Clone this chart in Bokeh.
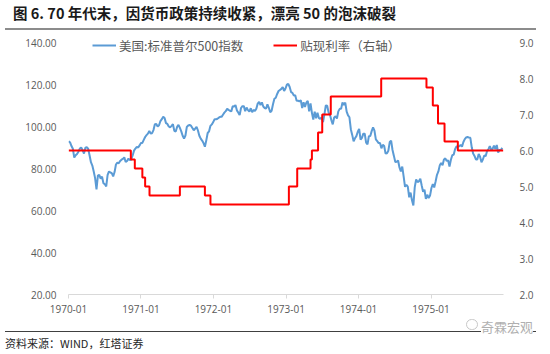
import pandas as pd
from bokeh.plotting import figure
from bokeh.layouts import column
from bokeh.models import (Range1d, LinearAxis, FixedTicker, PrintfTickFormatter,
                          DatetimeTickFormatter, Legend, LegendItem, Div)
from bokeh.embed import file_html
from bokeh.resources import INLINE

# ---------------- data ----------------
# S&P 500 weekly (Friday) values
spx_1970 = [93.0, 92.4, 90.7, 89.4, 85.2,
            86.3, 86.9, 88.0, 89.5,
            90.0, 88.7, 87.1, 89.9,
            90.1, 89.4, 86.3, 83.0,
            81.4, 78.6, 75.4, 70.0, 76.6,
            77.0, 75.2, 76.1, 73.0,
            72.5, 71.5, 77.0, 78.6, 78.1,
            77.8, 76.2, 78.3, 81.9,
            82.8, 82.5, 83.6, 84.2,
            84.6, 85.3, 83.1, 83.6, 84.7,
            84.0, 84.3, 86.2, 88.5,
            89.5, 90.3, 90.0, 91.0]
spx_1971 = [92.2, 92.2, 93.6, 95.0, 95.9,
            96.6, 97.9, 96.7, 96.8,
            98.3, 101.1, 101.2, 100.0,
            100.6, 102.6, 103.5, 104.6, 104.0,
            101.6, 101.2, 100.0, 99.6,
            100.3, 101.1, 97.9, 97.6,
            99.8, 100.8, 99.3, 97.7, 95.6,
            94.3, 95.7, 99.8, 100.5,
            100.7, 100.4, 99.3, 98.2,
            99.0, 99.8, 98.1, 95.6, 94.2,
            93.3, 92.1, 90.4, 93.4,
            96.9, 97.7, 100.3, 101.0, 102.1]
spx_1972 = [103.5, 103.4, 103.7, 104.2,
            104.6, 104.6, 105.6, 106.6,
            107.3, 108.4, 107.9, 107.5, 107.2,
            109.6, 109.5, 110.2, 107.7,
            106.7, 105.4, 108.8, 109.7,
            109.7, 107.3, 109.0, 107.8, 107.1,
            108.7, 106.8, 107.9, 107.4,
            108.5, 110.9, 111.7, 110.2,
            111.5, 109.5, 108.8, 108.5, 110.6,
            108.9, 106.8, 107.5, 110.6,
            113.2, 113.7, 115.5, 116.9,
            117.4, 117.9, 118.8, 116.9, 118.1]
spx_1973 = [119.9, 120.3, 118.8, 116.4,
            116.0, 114.7, 114.9, 112.2,
            112.3, 111.9, 112.5, 108.8, 111.5,
            109.3, 111.4, 112.2, 107.2,
            111.0, 106.5, 103.3, 107.1,
            103.9, 106.5, 104.0, 103.7, 104.3,
            102.1, 105.8, 110.0, 109.9,
            106.7, 105.6, 103.0, 101.0, 104.3,
            104.8, 103.8, 107.2, 108.4,
            108.4, 111.4, 110.2, 111.4,
            107.1, 105.3, 104.4, 98.7, 96.0,
            93.0, 94.4, 95.4, 97.5]
spx_1974 = [98.9, 93.7, 94.6, 96.6,
            96.6, 92.3, 91.5, 95.4,
            95.5, 97.8, 99.6, 98.0, 93.9,
            93.0, 92.1, 92.1, 89.6,
            91.3, 90.7, 87.1, 87.3, 88.5,
            92.6, 93.3, 88.8, 86.0,
            83.1, 83.2, 83.8, 80.5,
            78.6, 80.9, 76.3, 71.3, 72.2,
            71.4, 66.3, 68.5, 64.9,
            62.4, 71.1, 74.8, 73.5,
            73.9, 75.2, 71.9, 68.9, 69.9,
            65.5, 67.5, 65.9, 67.1]
spx_1975 = [70.7, 72.6, 71.0, 73.8, 77.0,
            78.6, 81.5, 82.6, 81.6,
            84.3, 84.8, 83.6, 83.9,
            80.9, 84.2, 86.3, 86.6,
            89.2, 90.5, 90.5, 90.6, 91.2,
            90.4, 92.6, 94.0, 94.8,
            95.0, 94.7, 94.6, 90.1,
            87.1, 86.0, 84.3, 84.3, 86.9,
            85.6, 83.0, 84.3, 86.2,
            85.9, 88.2, 89.2, 90.7, 89.0,
            89.3, 90.9, 89.2, 91.2,
            87.6, 88.8, 88.9, 89.8]
spx_years = [spx_1970, spx_1971, spx_1972, spx_1973, spx_1974, spx_1975]
first_fridays = ["1970-01-02", "1971-01-01", "1972-01-07", "1973-01-05", "1974-01-04", "1975-01-03"]

# Discount rate (right axis), step changes
rate_dates = ["1970-01-02", "1970-11-11", "1970-12-01", "1971-01-08", "1971-01-22",
              "1971-02-13", "1971-07-16", "1971-11-19", "1971-12-17", "1973-01-15",
              "1973-02-26", "1973-05-04", "1973-05-11", "1973-06-11", "1973-07-02",
              "1973-08-14", "1974-04-25", "1974-12-09", "1975-01-10", "1975-02-05",
              "1975-03-10", "1975-05-16", "1975-12-31"]
rate_values = [6.0, 5.75, 5.5, 5.25, 5.0,
               4.75, 5.0, 4.75, 4.5, 5.0,
               5.5, 5.75, 6.0, 6.5, 7.0,
               7.5, 8.0, 7.75, 7.25, 6.75,
               6.25, 6.0, 6.0]

left_ticks = [20, 40, 60, 80, 100, 120, 140]
right_ticks = [2, 3, 4, 5, 6, 7, 8, 9]
x_tick_labels = ["1970-01", "1971-01", "1972-01", "1973-01", "1974-01", "1975-01"]

title_text = "图 6. 70 年代末，因货币政策持续收紧，漂亮 50 的泡沫破裂"
source_text = "资料来源：WIND，红塔证券"
legend_spx = "美国:标准普尔500指数"
legend_rate = "贴现利率（右轴）"
watermark = "奇霖宏观"

# ---------------- build ----------------
spx_dates = []
spx_vals = []
for start, vals in zip(first_fridays, spx_years):
    spx_dates.extend(pd.date_range(start, periods=len(vals), freq="7D"))
    spx_vals.extend(vals)

rdates = pd.to_datetime(rate_dates)
xt = pd.to_datetime(x_tick_labels, format="%Y-%m")

CJK = "Noto Sans CJK SC"
GRAY = "#595959"
W = 550

# ---- title strip (canvas y 0..32)
title_html = (
    '<div style="position:relative;width:550px;height:32px;margin:0;padding:0;">'
    f'<span style="position:absolute;left:13px;top:3px;font-family:\'{CJK}\';'
    'font-size:14.5px;font-weight:bold;color:#1a1a1a;line-height:20px;white-space:nowrap;">'
    f'{title_text}</span>'
    '<div style="position:absolute;left:5px;top:28px;width:531px;height:2px;'
    'background:#8c8c8c;"></div></div>'
)
top = Div(text=title_html, width=W, height=32, margin=0)

# ---- main chart (canvas y 32..318), frame top 34, frame bottom 294
TOP_PAD = 8  # px of frame above the 140 / 9.0 level
p = figure(width=W, height=286, output_backend="svg", toolbar_location=None,
           x_axis_type="datetime",
           x_range=Range1d(pd.Timestamp("1970-01-01"), pd.Timestamp("1976-01-01")),
           y_range=Range1d(20, 140 + TOP_PAD / 2.1),
           min_border_left=68, min_border_right=47, min_border_top=2, min_border_bottom=24)
p.extra_y_ranges = {"right": Range1d(2, 9 + TOP_PAD / 36.0)}
p.outline_line_color = None
p.xgrid.visible = False
p.ygrid.visible = False

r_spx = p.line(spx_dates, spx_vals, line_color="#5B9BD5", line_width=2)
r_rate = p.step(rdates, rate_values, mode="after", line_color="#FF0000", line_width=2,
                y_range_name="right")

xa = p.xaxis[0]
xa.ticker = FixedTicker(ticks=[t.value // 10**6 for t in xt])
xa.formatter = DatetimeTickFormatter(days="%Y-%m", months="%Y-%m", years="%Y-%m")
xa.axis_line_color = "#D9D9D9"
xa.major_tick_line_color = "#D9D9D9"
xa.major_tick_out = 4
xa.major_tick_in = 0
xa.minor_tick_line_color = None
xa.major_label_text_font = "Open Sans"
xa.major_label_text_font_size = "10px"
xa.major_label_text_color = GRAY
xa.major_label_standoff = 6

ya = p.yaxis[0]
ya.ticker = FixedTicker(ticks=left_ticks)
ya.formatter = PrintfTickFormatter(format="%.2f")
ya.axis_line_color = None
ya.major_tick_line_color = None
ya.minor_tick_line_color = None
ya.major_label_text_font = "Open Sans"
ya.major_label_text_font_size = "10px"
ya.major_label_text_color = GRAY
ya.major_label_standoff = 6

ra = LinearAxis(y_range_name="right", ticker=FixedTicker(ticks=right_ticks),
                formatter=PrintfTickFormatter(format="%.1f"))
ra.axis_line_color = None
ra.major_tick_line_color = None
ra.minor_tick_line_color = None
ra.major_label_text_font = "Open Sans"
ra.major_label_text_font_size = "10px"
ra.major_label_text_color = GRAY
ra.major_label_standoff = 10
p.add_layout(ra, "right")

legend = Legend(items=[LegendItem(label=legend_spx, renderers=[r_spx]),
                       LegendItem(label=legend_rate, renderers=[r_rate])],
                orientation="horizontal", location=(24, 239),
                padding=0, margin=0, spacing=30, glyph_width=24, glyph_height=20,
                label_standoff=3, border_line_color=None, background_fill_alpha=0,
                label_text_font=CJK, label_text_font_size="12.5px", label_text_color=GRAY)
p.add_layout(legend, "center")

# ---- footer strip (canvas y 318..354)
foot_html = (
    '<div style="position:relative;width:550px;height:36px;margin:0;padding:0;">'
    '<div style="position:absolute;left:5px;top:12.5px;width:531px;height:1px;'
    'background:#404040;"></div>'
    f'<span style="position:absolute;left:5px;top:17px;font-family:\'{CJK}\';'
    'font-size:11px;color:#262626;line-height:16px;white-space:nowrap;">'
    f'{source_text}</span>'
    '<span style="position:absolute;left:466px;top:1px;width:12px;height:11px;'
    'border:1px solid #c8c8c8;border-radius:6px;background:white;"></span>'
    f'<span style="position:absolute;left:481px;top:0px;font-family:\'{CJK}\';'
    'font-size:13px;color:#b0b0b0;line-height:18px;white-space:nowrap;background:white;">'
    f'{watermark}</span>'
    '</div>'
)
bot = Div(text=foot_html, width=W, height=36, margin=0)

layout = column(top, p, bot, spacing=0)
open("out.html", "w").write(file_html(layout, INLINE))
